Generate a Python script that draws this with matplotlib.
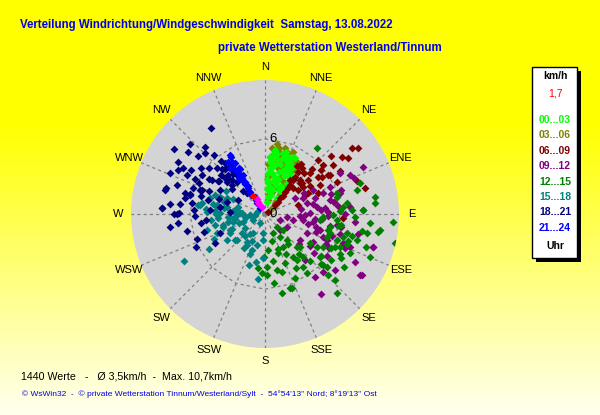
import matplotlib.pyplot as plt
import numpy as np
from matplotlib.patches import Rectangle

plt.rcParams['font.family'] = ['Liberation Sans', 'DejaVu Sans']

# wind direction (deg, from N clockwise) and speed (km/h), one list pair per 3-hour block
dir_00 = [5, 10.9, 16.8, 22, 28.3, 30.9, 8, 4.7, 15, 6.2, 15.5, 10.9, 7.7, 22.6, 16.5, 35, 33, 21.4, 31.6, 7,
          12, 18, 25, 27, 3, 13, 20, 26, 9, 30,
          4, 6, 8, 12, 14, 18, 20, 23, 25, 28, 32, 10, 5, 19, 26, 16, 11, 29, 34, 36]
spd_00 = [4.6, 4.9, 5.06, 4.94, 5.05, 4.4, 3.8, 3.25, 3.08, 2.46, 2.0, 1.4, 1.0, 3.8, 4.2, 3.0, 2.44, 2.9, 3.8, 4.35,
          4.0, 3.5, 4.2, 3.4, 2.8, 1.8, 2.5, 4.6, 5.2, 2.2,
          2.0, 3.7, 4.8, 4.5, 2.7, 4.7, 3.0, 4.5, 3.8, 4.0, 3.6, 3.3, 4.2, 5.2, 5.1, 1.6, 2.2, 2.6, 2.2, 1.6]
dir_03 = [9.5, 5, 13.9, 21, 31.2, 32.8, 35, 36.2, 38.3, 43, 50, 7, 15.2, 16.3, 19.9, 26.3, 16.6, 23, 13.4, 26.3,
          30, 34, 24, 11, 4,
          6, 12, 17, 22, 28, 33, 37, 40, 8, 4, 14, 24, 30, 20, 11]
spd_03 = [5.66, 4.6, 5.0, 5.2, 4.9, 4.2, 3.5, 2.7, 1.93, 1.17, 0.7, 3.27, 2.53, 3.8, 4.3, 4.8, 1.86, 2.37, 1.15, 5.1,
          3.9, 2.3, 3.2, 4.4, 4.0,
          5.3, 5.4, 5.5, 4.0, 3.0, 2.6, 2.0, 1.4, 2.0, 3.0, 4.6, 5.4, 4.4, 2.8, 1.6]
dir_06 = [38.2, 38.8, 40.8, 41.8, 43.8, 48, 55, 45.8, 54.5, 47.8, 44.6, 52.2, 59, 52.8, 54.9, 53.2, 50, 54.4, 58.4,
          55, 47.9, 48.8, 54.2, 75.6, 93, 68.8, 65, 75, 57, 60, 36, 34,
          39, 40, 42, 45, 47, 36, 44, 50, 52, 46, 58, 62, 49, 56, 66, 70, 80, 64]
spd_06 = [4.3, 3.8, 3.06, 2.4, 1.73, 1.07, 0.33, 3.9, 3.76, 3.05, 6.06, 5.7, 6.05, 8.68, 9.1, 7.64, 6.08, 6.7, 5.94,
          5.2, 4.84, 3.7, 3.28, 8.24, 6.26, 4.56, 3.5, 2.75, 5.4, 6.9, 3.4, 4.6,
          4.7, 3.5, 2.8, 2.0, 1.4, 4.9, 4.5, 3.9, 4.4, 5.2, 4.2, 5.0, 7.0, 8.0, 6.3, 7.8, 5.6, 3.8]
dir_09 = [64.3, 65.4, 61.5, 72.6, 67.2, 70.5, 63.6, 61.7, 62.4, 75.6, 81.9, 77.8, 74.6, 85, 87.7, 111.8, 97, 102,
          98.9, 89, 99, 98.7, 106, 115, 126.6, 112.9, 110.5, 111, 106.8, 122.3, 141.4, 120.3, 136.8, 139, 128.7,
          122.7, 67.8, 93, 104, 107, 88, 95, 118, 100, 84, 92, 108, 125, 80, 113,
          72, 78, 86, 92, 96, 100, 103, 105, 109, 112, 116, 120, 124, 128, 132, 84, 90, 95, 82, 73, 68, 102,
          118, 135, 145]
spd_09 = [8.7, 7.46, 6.8, 6.4, 5.6, 4.94, 4.3, 3.5, 2.7, 3.43, 4.17, 5.3, 6.2, 6.8, 7.85, 1.3, 1.74, 2.3, 3.1, 3.6,
          3.9, 5.78, 4.57, 3.66, 3.48, 5.34, 6.67, 7.27, 9.03, 9.12, 6.4, 2.0, 1.75, 4.86, 7.15, 9.0, 3.3, 2.8, 4.2,
          9.0, 5.0, 4.6, 5.8, 6.2, 4.8, 3.2, 5.6, 4.4, 5.6, 6.9,
          4.2, 3.9, 4.5, 5.0, 4.0, 5.3, 3.5, 6.2, 4.3, 5.0, 5.4, 4.4, 6.0, 5.0, 3.6, 5.9, 6.4, 7.2, 2.9, 5.5, 7.7,
          7.6, 8.1, 6.6, 7.8]
dir_12 = [38.2, 72.1, 75.3, 81, 84.5, 93.4, 97.9, 102.6, 87.4, 84.7, 76.4, 90.6, 101, 96.2, 110.2, 110, 103.3,
          105.8, 112.1, 113.5, 119.2, 123, 133, 138, 150.7, 146.5, 131, 140, 146.4, 144, 131.2, 133.3, 137.9, 160.3,
          168.1, 182, 183, 178, 173, 161, 187, 168, 158, 161, 156.7, 137.4, 135.9, 122.3, 106.6, 94.8, 92.6, 106.1,
          100.8, 98.9, 95.1, 87.7, 82.6, 73.9, 130.5, 114.8, 144.9, 145.5, 117, 127, 99, 104, 108,
          98, 104, 110, 115, 120, 125, 128, 132, 136, 140, 150, 155, 164, 170, 175, 152, 143, 88, 92, 100, 108,
          118, 124, 134, 160, 166, 178]
spd_12 = [6.67, 7.96, 7.56, 8.9, 8.8, 10.26, 9.27, 10.6, 6.92, 6.28, 5.9, 5.45, 5.28, 4.4, 5.24, 6.08, 6.7, 7.6,
          9.04, 6.53, 5.33, 4.3, 3.82, 4.58, 3.0, 2.17, 1.94, 2.7, 4.09, 5.2, 6.18, 7.68, 8.53, 6.3, 6.47, 3.4, 4.74,
          4.2, 5.57, 6.25, 4.37, 4.56, 4.25, 3.3, 1.68, 1.37, 3.63, 4.88, 5.4, 5.74, 4.66, 6.5, 8.26, 9.15, 8.4,
          7.85, 6.57, 5.95, 6.47, 7.47, 5.78, 4.46, 5.9, 5.6, 6.0, 5.2, 7.0,
          6.1, 7.2, 7.0, 6.2, 7.0, 6.4, 5.6, 6.0, 5.2, 4.2, 5.0, 5.6, 4.8, 3.8, 2.9, 3.6, 3.0, 6.0, 7.2, 7.9, 8.5,
          6.8, 7.6, 7.0, 3.0, 2.2, 4.9]
dir_15 = [240.1, 238.1, 277.9, 274.5, 280.5, 292.2, 270.8, 257.6, 253.1, 256.4, 241, 229, 212, 201, 200, 213.5,
          271.5, 261.7, 285.6, 242.8, 208, 185, 183.7, 186, 182, 210.6, 211, 234.4, 277.7, 279.6, 272.3, 264.7,
          255.2, 265.6, 271.5, 262.4, 280.8, 278.6, 291, 290.8, 245.4, 227.5, 254.7, 248.2, 268, 275, 283, 260,
          266, 273, 250, 222,
          262, 268, 272, 266, 276, 284, 278, 270, 287, 258, 252, 246, 236, 230, 218, 205, 195, 191, 197, 244,
          286, 281, 295, 300, 264]
spd_15 = [7.5, 5.3, 5.2, 4.7, 3.9, 3.3, 3.6, 4.1, 3.5, 2.6, 3.2, 3.2, 3.2, 3.4, 3.1, 2.65, 2.0, 1.5, 0.7, 1.05,
          0.85, 1.55, 2.1, 5.2, 3.5, 2.9, 1.8, 1.96, 5.4, 5.1, 4.66, 3.74, 3.44, 2.8, 2.0, 1.6, 3.1, 3.9, 3.85, 4.27,
          3.07, 3.07, 4.8, 4.15, 1.2, 2.5, 2.3, 2.4, 3.0, 4.0, 1.9, 2.4,
          0.8, 1.2, 1.8, 2.3, 2.6, 2.2, 3.3, 3.9, 3.4, 3.0, 2.2, 2.9, 3.7, 2.4, 2.0, 2.4, 2.6, 3.9, 4.3, 4.5,
          4.6, 4.2, 2.8, 3.6, 4.3]
dir_18 = [327.6, 313, 305.5, 308.5, 315.6, 310.8, 319.3, 301, 293.5, 296.7, 300.6, 309, 296.5, 296.7, 301.6, 302,
          302.5, 288, 284.5, 289.7, 290, 284.5, 284, 278.3, 277, 273.5, 270, 321.7, 323, 316.5, 316.8, 327.3,
          318.8, 316, 311.7, 311, 283.5, 273.2, 270.2, 270.7, 264.4, 284.8, 290.8, 273.2, 261.8, 264, 249.7,
          239.6, 247, 274, 279, 274, 297.7, 318.4, 283.9, 287.8, 320, 314, 325, 306,
          318, 322, 314, 312, 320, 324, 316, 310, 307, 305, 298, 292, 286, 281, 276, 268, 258, 254, 244, 262,
          295, 299, 306, 318, 288]
spd_18 = [8.1, 8.2, 8.9, 7.9, 6.85, 7.1, 6.2, 8.1, 8.3, 7.8, 6.9, 5.8, 7.0, 6.3, 5.9, 5.3, 5.05, 7.4, 8.2, 6.1,
          5.5, 6.6, 6.2, 5.9, 6.8, 8.2, 7.05, 5.15, 4.4, 5.0, 4.3, 3.7, 3.4, 2.5, 4.3, 3.5, 8.2, 8.2, 7.3, 6.9,
          7.0, 6.2, 5.4, 5.7, 5.2, 4.7, 5.8, 4.6, 3.9, 4.4, 3.6, 2.8, 2.4, 2.2, 4.65, 3.2, 4.8, 4.0, 4.7, 4.5,
          4.8, 4.1, 5.3, 4.7, 5.5, 3.9, 3.8, 4.0, 3.3, 4.6, 4.1, 4.8, 5.3, 6.5, 7.6, 5.6, 6.4, 5.1, 6.1, 7.7,
          5.8, 7.5, 6.3, 7.2, 3.9]
dir_21 = [329.3, 329.4, 325.3, 326.7, 326.8, 326.9, 327, 326, 322, 318, 325, 331, 324, 328, 330, 327,
          328, 330, 327, 326, 328, 325, 329, 323, 331]
spd_21 = [5.3, 4.7, 4.4, 3.9, 3.4, 2.9, 2.45, 2.15, 1.08, 0.6, 5.1, 4.1, 3.6, 3.0, 1.6, 1.3,
          4.9, 4.2, 3.7, 3.2, 2.6, 1.9, 5.5, 4.6, 3.6]
dir_mag = [331.6, 335, 332, 330]
spd_mag = [1.1, 0.64, 1.4, 0.9]
dir_now = [326]
spd_now = [1.7]

# drawing order: olive first so the lime points of the night stay visible on top
groups = [(dir_03, spd_03, '#808000'), (dir_00, spd_00, '#00ff00'), (dir_06, spd_06, '#800000'),
          (dir_09, spd_09, '#800080'), (dir_12, spd_12, '#008000'), (dir_15, spd_15, '#008080'),
          (dir_18, spd_18, '#000080'), (dir_21, spd_21, '#0000ff'), (dir_mag, spd_mag, '#ff00ff'),
          (dir_now, spd_now, '#ff0000')]
legend_labels = ['00...03', '03...06', '06...09', '09...12', '12...15', '15...18', '18...21', '21...24']
legend_colors = ['#00ff00', '#808000', '#800000', '#800080', '#008000', '#008080', '#000080', '#0000ff']
compass = ['N', 'NNE', 'NE', 'ENE', 'E', 'ESE', 'SE', 'SSE', 'S', 'SSW', 'SW', 'WSW', 'W', 'WNW', 'NW', 'NNW']
rmax = 10.7

fig = plt.figure(figsize=(6, 4.15), dpi=100)

# yellow gradient background
bg = fig.add_axes([0, 0, 1, 1])
grad = np.linspace(0, 1, 415)
grad = np.clip((grad - 0.3) / 0.7, 0, 1)
img = np.zeros((415, 1, 3))
img[:, 0, 0] = 1
img[:, 0, 1] = 1
img[:, 0, 2] = grad * 0.94
bg.imshow(img, aspect='auto', extent=[0, 1, 0, 1], origin='upper')
bg.set_xlim(0, 1)
bg.set_ylim(0, 1)
bg.axis('off')

ax = fig.add_axes([131 / 600, 67 / 415, 268 / 600, 268 / 415], projection='polar')
ax.set_theta_zero_location('N')
ax.set_theta_direction(-1)
ax.set_ylim(0, rmax)
ax.set_facecolor('#d4d4d4')
ax.grid(False)
ax.set_xticks([])
ax.set_yticks([])
ax.spines['polar'].set_visible(False)

angles = np.deg2rad(np.arange(16) * 22.5)
for a in angles:
    ax.plot([a, a], [0, rmax], color='#808080', lw=0.9, ls=(0, (2.5, 2.5)), zorder=1)
ring = np.append(angles, angles[0])
ax.plot(ring, [6] * len(ring), color='#808080', lw=0.9, ls=(0, (2.5, 2.5)), zorder=1)

for d, s, c in groups:
    ax.scatter(np.deg2rad(d), s, marker='D', s=16, color=c, linewidths=0, zorder=3)

for a, name in zip(angles, compass):
    ax.text(a, 11.75, name, ha='center', va='center', fontsize=8, clip_on=False)
ax.annotate('6', (0, 6), xytext=(4, 0), textcoords='offset pixels', ha='left', va='center', fontsize=9.5)
ax.annotate('0', (0, 0), xytext=(4, 0), textcoords='offset pixels', ha='left', va='center', fontsize=9.5,
            zorder=5)

# titles
fig.text(20 / 600, 1 - 25 / 415, 'Verteilung Windrichtung/Windgeschwindigkeit  Samstag, 13.08.2022',
         color='#0000ee', fontsize=8.3, fontweight='bold', va='center')
fig.text(218 / 600, 1 - 48 / 415, 'private Wetterstation Westerland/Tinnum',
         color='#0000ee', fontsize=8.3, fontweight='bold', va='center')
fig.text(21 / 600, 1 - 376 / 415, '1440 Werte   -   Ø 3,5km/h  -  Max. 10,7km/h',
         color='black', fontsize=7.7, va='center')
fig.text(22 / 600, 1 - 394 / 415,
         "© WsWin32  -  © private Wetterstation Tinnum/Westerland/Sylt  -  54°54'13'' Nord; 8°19'13'' Ost",
         color='#0000ee', fontsize=6.05, va='center')

# legend box
fig.patches.append(Rectangle((536 / 600, 1 - 262 / 415), 45 / 600, 191 / 415, transform=fig.transFigure,
                             facecolor='black', edgecolor='none', zorder=5))
fig.patches.append(Rectangle((532 / 600, 1 - 258 / 415), 45 / 600, 191 / 415, transform=fig.transFigure,
                             facecolor='white', edgecolor='black', lw=1, zorder=6))
lx = 555 / 600
fig.text(lx, 1 - 76 / 415, 'km/h', ha='center', va='center', fontsize=7.5, fontweight='bold', zorder=7)
fig.text(lx, 1 - 93 / 415, '1,7', ha='center', va='center', fontsize=7.5, color='#ff0000', zorder=7)
for i, (lab, col) in enumerate(zip(legend_labels, legend_colors)):
    fig.text(lx, 1 - (120 + i * 15.4) / 415, lab, ha='center', va='center', fontsize=7.5,
             fontweight='bold', color=col, zorder=7)
fig.text(lx, 1 - 246 / 415, 'Uhr', ha='center', va='center', fontsize=7.5, fontweight='bold', zorder=7)

fig.savefig('out.png', dpi=100)
